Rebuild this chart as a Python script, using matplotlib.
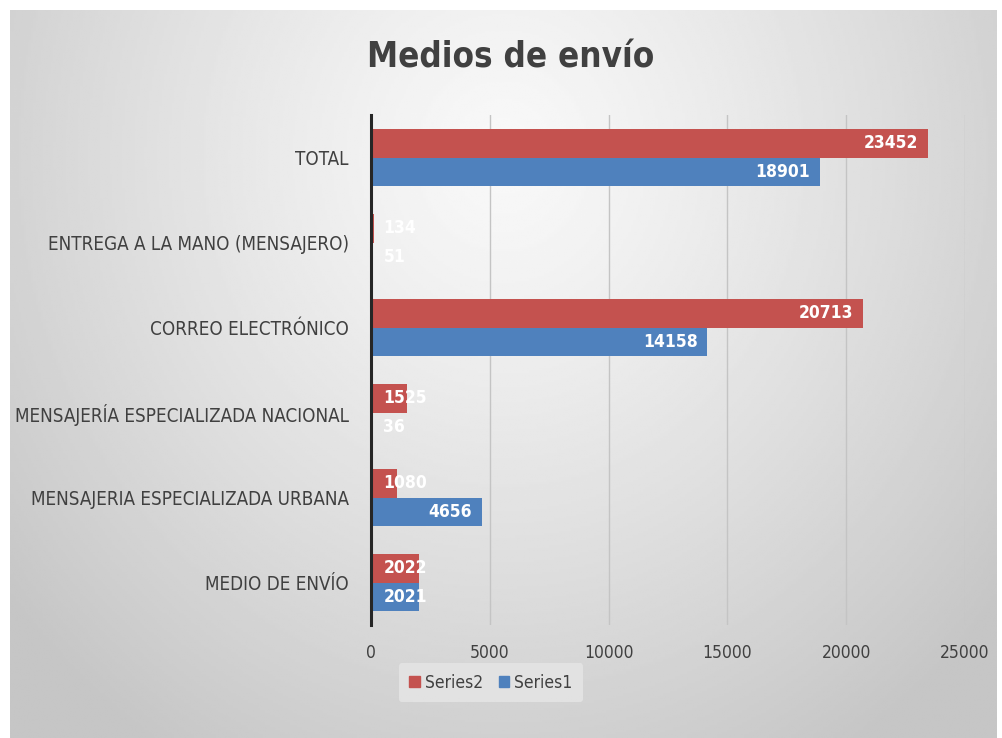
import numpy as np
import matplotlib.pyplot as plt
from matplotlib.patches import Patch

# Datos (de abajo hacia arriba)
categorias = ["MEDIO DE ENVÍO",
              "MENSAJERIA ESPECIALIZADA URBANA",
              "MENSAJERÍA ESPECIALIZADA NACIONAL",
              "CORREO ELECTRÓNICO",
              "ENTREGA A LA MANO (MENSAJERO)",
              "TOTAL"]
series1 = [2021, 4656, 36, 14158, 51, 18901]
series2 = [2022, 1080, 1525, 20713, 134, 23452]
xticks = [0, 5000, 10000, 15000, 20000, 25000]

rojo = "#C4524F"
azul = "#4F81BD"

plt.rcParams['font.family'] = ['DejaVu Sans']
plt.rcParams['font.stretch'] = 'condensed'

fig = plt.figure(figsize=(10.02, 7.38), dpi=100)

# Fondo con degradado radial
W, H = 1002, 738
x0, x1, y0, y1 = 10, 996, 0, 728
bg = fig.add_axes([x0 / W, y0 / H, (x1 - x0) / W, (y1 - y0) / H], zorder=-1)
gx, gy = np.meshgrid(np.linspace(-1, 1, 400), np.linspace(-1, 1, 300))
dist = np.clip(np.sqrt(gx**2 * 1.0 + (gy + 0.6)**2 * 0.45), 0, 1.3)
grad = 0.975 - 0.20 * (dist / 1.3) ** 1.2
bg.imshow(grad, cmap='gray', vmin=0, vmax=1, aspect='auto', extent=[0, 1, 0, 1])
bg.axis('off')

ax = fig.add_axes([371 / W, 1 - 625 / H, 594 / W, 510 / H])
ax.patch.set_alpha(0)

y = np.arange(len(categorias))
h = 0.34
b2 = ax.barh(y + h / 2, series2, height=h, color=rojo, label="Series2", zorder=3)
b1 = ax.barh(y - h / 2, series1, height=h, color=azul, label="Series1", zorder=3)

# Etiquetas de datos
for bars, vals in [(b2, series2), (b1, series1)]:
    for bar, v in zip(bars, vals):
        yc = bar.get_y() + bar.get_height() / 2
        if v < 3000:
            ax.annotate(str(v), (0, yc), xytext=(9, 0), textcoords='offset points',
                        ha='left', va='center', color='white', fontsize=12.5,
                        fontweight='bold', zorder=4)
        else:
            ax.annotate(str(v), (v, yc), xytext=(-7, 0), textcoords='offset points',
                        ha='right', va='center', color='white', fontsize=12.5,
                        fontweight='bold', zorder=4)

ax.set_xlim(0, 25000)
ax.set_ylim(-0.5, len(categorias) - 0.5)
ax.set_xticks(xticks)
ax.set_xticklabels([str(t) for t in xticks])
ax.set_yticks(y)
ax.set_yticklabels(categorias)
ax.tick_params(axis='both', length=0, labelsize=12.5, colors='#404040')
ax.tick_params(axis='y', labelsize=13.5, pad=16)
ax.tick_params(axis='x', pad=14)
ax.grid(axis='x', color='#c4c4c4', linewidth=1, zorder=0)
for s in ['top', 'right', 'bottom']:
    ax.spines[s].set_visible(False)
ax.spines['left'].set_color('#262626')
ax.spines['left'].set_linewidth(2.2)
ax.spines['left'].set_zorder(5)

fig.text(0.51, 0.922, "Medios de envío", ha='center', va='center',
         fontsize=25, fontweight='bold', color='#404040')

handles = [Patch(color=rojo, label="Series2"), Patch(color=azul, label="Series1")]
leg = fig.legend(handles=handles, loc='center', bbox_to_anchor=(0.49, 0.075), ncol=2,
                 frameon=True, fontsize=12.5, handlelength=0.6, handleheight=0.6,
                 handletextpad=0.3, columnspacing=0.9, borderpad=0.6)
leg.get_frame().set_facecolor('#e6e6e6')
leg.get_frame().set_edgecolor('none')
leg.get_frame().set_alpha(0.8)
for t in leg.get_texts():
    t.set_color('#404040')

fig.savefig("out.png", dpi=100)
